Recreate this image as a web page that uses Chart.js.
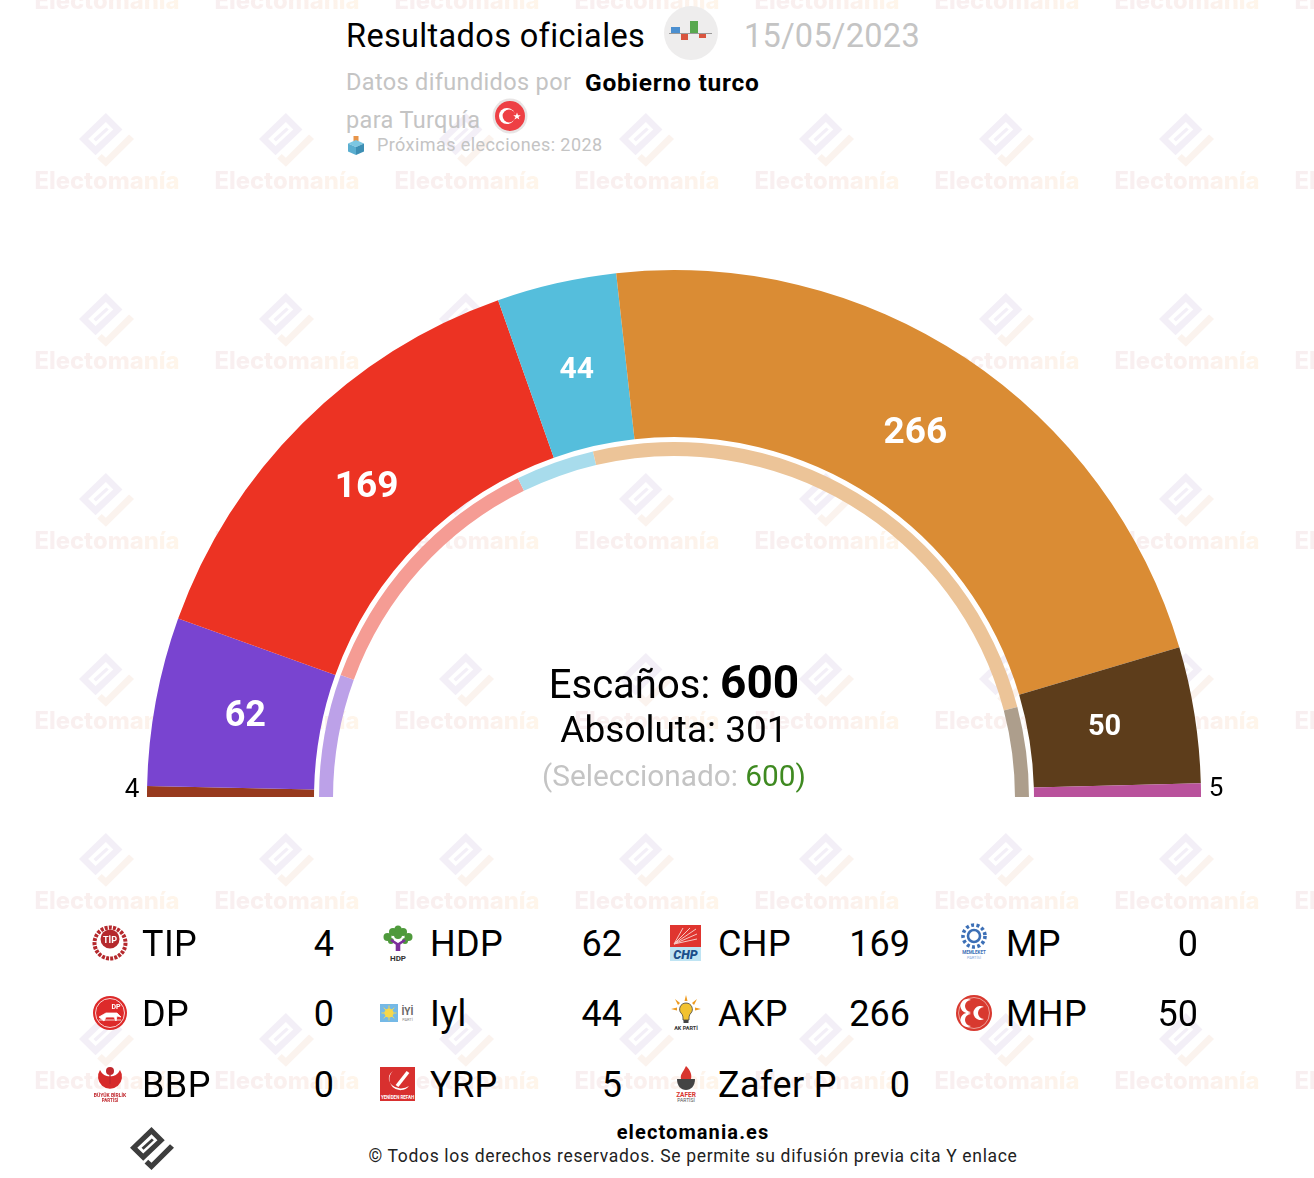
<!DOCTYPE html>
<html lang="es">
<head>
<meta charset="utf-8">
<title>Resultados oficiales</title>
<script src="https://cdn.jsdelivr.net/npm/chart.js@4"></script>
<style>
  html, body { margin: 0; padding: 0; background: #fff; }
  body { position: relative; width: 1314px; height: 1178px; overflow: hidden; font-family: Roboto, sans-serif; color: #000; }
  .abs { position: absolute; white-space: nowrap; line-height: 1; }
  .mid { transform: translate(-50%, -50%); }
  .vmid { transform: translateY(-50%); }
  .right { transform: translate(-100%, -50%); }
  .gray { color: #c4c4c4; }
  .wm { position: absolute; font-family: Inter, sans-serif; font-weight: 800; font-size: 23.8px; line-height: 1; width: 150px; text-align: center;
    transform: translate(-50%, -50%); background: linear-gradient(90deg, #f8eff1, #fbf0ed 60%, #fff6ea); -webkit-background-clip: text; background-clip: text; color: transparent; }
  .wmicon { position: absolute; width: 55px; height: 55px; }
  #chartBox { position: absolute; left: 100px; top: 250px; width: 1148px; height: 567px; }
  svg { position: absolute; overflow: visible; }
</style>
</head>
<body>
<svg width="0" height="0" style="position:absolute">
  <defs>
    <symbol id="mark-main" viewBox="0 0 133 133">
      <path fill-rule="evenodd" d="M65 0 L0 63 L40 102 L105 40 Z M65 22 L22 63 L40 80 L83 40 Z"/>
      <path d="M66 35 L35 63 L41 69 L72 40 Z"/>
    </symbol>
    <symbol id="mark-tail" viewBox="0 0 133 133">
      <path d="M121 52 L133 63 L65 130 L44 110 L55 99 L65 108 Z"/>
    </symbol>
  </defs>
</svg>
<div id="watermarks"></div>
<div id="chartBox"><canvas id="seats"></canvas></div>

<div class="abs vmid" style="left:346px;top:36px;font-size:32.5px;letter-spacing:0.35px;">Resultados oficiales</div>
<svg style="left:664px;top:6px" width="54" height="54">
  <circle cx="27" cy="27" r="27" fill="#eeeded"/>
  <rect x="7" y="21" width="9" height="6" fill="#4b8fd0"/>
  <rect x="17" y="28" width="7" height="6" fill="#d9553f"/>
  <rect x="26" y="15" width="8" height="12" fill="#58a84f"/>
  <rect x="35" y="28" width="7" height="4" fill="#d9553f"/>
  <rect x="5" y="27" width="43" height="1" fill="#9a9a9a"/>
</svg>
<div class="abs vmid gray" style="left:744px;top:36px;font-size:32.5px;letter-spacing:0.3px;">15/05/2023</div>

<div class="abs vmid gray" style="left:346px;top:83px;font-size:23.5px;letter-spacing:0.35px;">Datos difundidos por</div>
<div class="abs vmid" style="left:585px;top:83px;font-size:24.5px;font-weight:700;letter-spacing:0.75px;">Gobierno turco</div>
<div class="abs vmid gray" style="left:346px;top:121px;font-size:23.5px;letter-spacing:0.35px;">para Turquía</div>
<svg style="left:492px;top:98px" width="36" height="36">
  <circle cx="18" cy="18" r="17.5" fill="#e8e4e4"/>
  <circle cx="18" cy="18" r="15" fill="#ee3f44"/>
  <circle cx="15" cy="18" r="8" fill="#fff"/>
  <circle cx="17" cy="18" r="6.4" fill="#ee3f44"/>
  <polygon points="25,14.5 26,17.2 28.8,17.2 26.5,18.9 27.4,21.6 25,20 22.6,21.6 23.5,18.9 21.2,17.2 24,17.2" fill="#fff"/>
</svg>
<svg style="left:347px;top:136px" width="18" height="20">
  <rect x="6.5" y="0" width="5" height="6" fill="#e8954a"/>
  <polygon points="9,4 17,7.5 9,11 1,7.5" fill="#7cc7e2"/>
  <polygon points="1,7.5 9,11 9,19 1,15.5" fill="#5aaed0"/>
  <polygon points="17,7.5 9,11 9,19 17,15.5" fill="#3d8fb4"/>
</svg>
<div class="abs vmid gray" style="left:377px;top:145px;font-size:18px;letter-spacing:0.42px;">Próximas elecciones: 2028</div>

<div class="abs mid" style="left:674px;top:682px;font-size:40px;">Escaños: <b style="font-size:46px;">600</b></div>
<div class="abs mid" style="left:674px;top:729px;font-size:37px;">Absoluta: 301</div>
<div class="abs mid gray" style="left:674px;top:776px;font-size:29.8px;">(Seleccionado: <span style="color:#3f8a21;">600)</span></div>

<div id="legend"></div>

<svg style="left:130px;top:1127px" width="44" height="44"><use href="#mark-main" width="44" height="44" fill="#3d3d3d"/><use href="#mark-tail" width="44" height="44" fill="#3d3d3d"/></svg>
<div class="abs mid" style="left:693px;top:1132px;font-size:20px;font-weight:700;letter-spacing:1.1px;">electomania.es</div>
<div class="abs mid" style="left:693px;top:1157px;font-size:17.5px;letter-spacing:0.67px;color:#222;">© Todos los derechos reservados. Se permite su difusión previa cita Y enlace</div>

<script>
'use strict';
// seats now, outer band
let parties = ['TIP', 'HDP', 'CHP', 'Iyl', 'AKP', 'MHP', 'YRP'];
let seats = [4, 62, 169, 44, 266, 50, 5];
let colors = ['#973a1e', '#7944d0', '#ec3323', '#55bedc', '#da8c34', '#5d3d1b', '#b9529c'];
let labelSizes = [26, 36, 37, 30, 37, 29, 26];

// previous parliament, thin inner band
let prevParties = ['HDP', 'CHP', 'Iyl', 'AKP', 'MHP'];
let prevSeats = [67, 146, 43, 295, 49];
let prevColors = ['#bca1e8', '#f59c94', '#a8dcec', '#ecc498', '#ad9e8c'];

// legend table
let legendNames = ['TIP', 'HDP', 'CHP', 'MP', 'DP', 'Iyl', 'AKP', 'MHP', 'BBP', 'YRP', 'Zafer P'];
let legendValues = [4, 62, 169, 0, 0, 44, 266, 50, 0, 5, 0];

let logos = {
  'TIP': '<circle cx="18" cy="18" r="15.5" fill="none" stroke="#b5292d" stroke-width="4" stroke-dasharray="3 1.2"/><circle cx="18" cy="14" r="9.5" fill="#b5292d"/><text x="18" y="17.5" font-size="9" font-weight="700" text-anchor="middle" fill="#fff">TİP</text>',
  'HDP': '<circle cx="13" cy="7" r="4" fill="#4f9a3c"/><circle cx="23" cy="7" r="4" fill="#4f9a3c"/><circle cx="7.5" cy="12" r="4" fill="#4f9a3c"/><circle cx="28.5" cy="12" r="4" fill="#4f9a3c"/><circle cx="18" cy="4" r="3.5" fill="#4f9a3c"/><circle cx="18" cy="10" r="4" fill="#4f9a3c"/><circle cx="11" cy="16" r="3" fill="#4f9a3c"/><circle cx="25" cy="16" r="3" fill="#4f9a3c"/><path d="M17 26 L17 19 L11 15 M19 26 L19 19 L25 15" stroke="#7d2f9c" stroke-width="2.6" fill="none"/><text x="18" y="36" font-size="8" font-weight="700" text-anchor="middle" fill="#333">HDP</text>',
  'CHP': '<rect x="2" y="0" width="31" height="22" fill="#e0352f"/><path d="M6 19 L28 4 M6 19 L29 9 M6 19 L29 14 M6 19 L22 3 M6 19 L15 3" stroke="#f7c9c4" stroke-width="1"/><rect x="2" y="22" width="31" height="14" fill="#bfe4f3"/><text x="17.5" y="33.5" font-size="12.5" font-weight="900" font-style="italic" text-anchor="middle" fill="#1c4f8a">CHP</text>',
  'MP': '<circle cx="18" cy="11" r="6" fill="none" stroke="#3c6fb6" stroke-width="2.6"/><circle cx="18" cy="11" r="11" fill="none" stroke="#3c6fb6" stroke-width="3.6" stroke-dasharray="3 2.4"/><text x="18" y="29" font-size="4.5" font-weight="700" text-anchor="middle" fill="#3c6fb6">MEMLEKET</text><text x="18" y="34" font-size="4" text-anchor="middle" fill="#7fa7dc">PARTİSİ</text>',
  'DP': '<circle cx="18" cy="18" r="17" fill="#dd2a2a"/><circle cx="18" cy="18" r="14.5" fill="none" stroke="#fff" stroke-width="0.8"/><text x="24" y="14" font-size="7" font-weight="700" text-anchor="middle" fill="#fff">DP</text><path d="M7 22 L14 18 L25 18 L29 22 L25 21 L24 26 L22 22 L14 22 L12 26 Z M7 25 L29 25" fill="#fff" stroke="#fff" stroke-width="0.8"/>',
  'Iyl': '<rect x="0" y="9" width="18" height="18" fill="#75b9e6"/><circle cx="9" cy="18" r="4.6" fill="#f7d84a"/><path d="M9 10.5 L9 25.5 M1.5 18 L16.5 18 M3.7 12.7 L14.3 23.3 M14.3 12.7 L3.7 23.3" stroke="#f7d84a" stroke-width="1"/><text x="27.5" y="20" font-size="10" font-weight="700" text-anchor="middle" fill="#666">İYİ</text><text x="27.5" y="26" font-size="4" text-anchor="middle" fill="#888">PARTİ</text>',
  'AKP': '<path d="M18 8 C12 8 10 15 13 18 C15 20 15 22 15 25 L21 25 C21 22 21 20 23 18 C26 15 24 8 18 8 Z" fill="#f2c230" stroke="#444" stroke-width="0.8"/><rect x="15.5" y="25" width="5" height="3" fill="#444"/><path d="M18 0 L19.5 6 L16.5 6 Z M3 14 L9 12.5 L9 15.5 Z M33 14 L27 12.5 L27 15.5 Z M7 4 L12 8 L10 10 Z M29 4 L24 8 L26 10 Z" fill="#ee9a1f"/><text x="18" y="35" font-size="5.5" font-weight="700" text-anchor="middle" fill="#333">AK PARTİ</text>',
  'MHP': '<circle cx="18" cy="18" r="18" fill="#d8392f"/><circle cx="18" cy="18" r="15.5" fill="none" stroke="#f3b9b3" stroke-width="0.8"/><path d="M15 5 A7 7 0 1 0 15 17 A5.6 5.6 0 1 1 15 5 Z M15 19 A7 7 0 1 0 15 31 A5.6 5.6 0 1 1 15 19 Z M28 12 A7 7 0 1 0 28 24 A5.6 5.6 0 1 1 28 12 Z" fill="#fff"/>',
  'BBP': '<path d="M8 4 A12 12 0 1 0 28 4 A11 11 0 0 1 8 4 Z" fill="#d62a2a"/><circle cx="18" cy="5" r="4" fill="#c0272d"/><path d="M18 9 L18 18" stroke="#c0272d" stroke-width="1.4"/><text x="18" y="31" font-size="5" font-weight="700" text-anchor="middle" fill="#c0272d">BÜYÜK BİRLİK</text><text x="18" y="36" font-size="4.5" font-weight="700" text-anchor="middle" fill="#c0272d">PARTİSİ</text>',
  'YRP': '<rect x="0" y="1" width="35" height="34" fill="#d8302f"/><path d="M13 5 A11 11 0 1 0 29 20 A11 9 0 0 1 13 5 Z" fill="#fff"/><path d="M17 20 L28 6" stroke="#fff" stroke-width="3.5"/><text x="17.5" y="32.5" font-size="4.5" font-weight="700" text-anchor="middle" fill="#fff">YENİDEN REFAH</text>',
  'Zafer P': '<path d="M18 0 C23 5 24 9 23 13 L13 13 C12 8 15 7 18 0 Z" fill="#d8352f"/><path d="M9 13 L27 13 C27 20 23 24 18 24 C13 24 9 20 9 13 Z" fill="#444"/><text x="18" y="31" font-size="6.5" font-weight="700" text-anchor="middle" fill="#d8352f">ZAFER</text><text x="18" y="36" font-size="5" text-anchor="middle" fill="#555">PARTİSİ</text>'
};

// positions of the repeated background mark
let wmXs = [107, 287, 467, 647, 827, 1007, 1187, 1367];
let wmYs = [1, 181, 361, 541, 721, 901, 1081];

function addWatermarks() {
  let box = document.getElementById('watermarks');
  let html = '';
  for (let y of wmYs) {
    for (let x of wmXs) {
      html += `<svg class="wmicon" style="left:${x - 28}px;top:${y - 68}px" viewBox="0 0 133 133"><use href="#mark-main" width="133" height="133" fill="#f3eff7"/><use href="#mark-tail" width="133" height="133" fill="#fbf3ee"/></svg>`;
      html += `<div class="wm" style="left:${x}px;top:${y}px">Electomanía</div>`;
    }
  }
  box.innerHTML = html;
}

function addLegend() {
  let box = document.getElementById('legend');
  let colX = [110, 398, 686, 974];
  let rowY = [944, 1014, 1085];
  let html = '';
  for (let i = 0; i < legendNames.length; i++) {
    let x = colX[i % 4];
    let y = rowY[Math.floor(i / 4)];
    let name = legendNames[i];
    html += `<svg style="left:${x - 18}px;top:${y - 19}px" width="36" height="36" font-family="Roboto, sans-serif">${logos[name]}</svg>`;
    html += `<div class="abs vmid" style="left:${x + 32}px;top:${y}px;font-size:36px;letter-spacing:0.4px;">${name}</div>`;
    html += `<div class="abs right" style="left:${x + 224}px;top:${y}px;font-size:36px;">${legendValues[i]}</div>`;
  }
  box.innerHTML = html;
}

addWatermarks();
addLegend();

let canvas = document.getElementById('seats');
canvas.width = 1148;
canvas.height = 567;

let chart = new Chart(canvas.getContext('2d'), {
  type: 'doughnut',
  data: {
    labels: parties,
    datasets: [
      { label: 'Escaños', data: seats, backgroundColor: colors, borderWidth: 0, weight: 167 },
      { label: 'hueco', data: [1], backgroundColor: ['rgba(0,0,0,0)'], borderWidth: 0, weight: 5 },
      { label: 'Anterior', data: prevSeats, backgroundColor: prevColors, borderWidth: 0, weight: 14 }
    ]
  },
  options: {
    responsive: false,
    animation: false,
    rotation: -90,
    circumference: 180,
    radius: 527,
    cutout: '64.7%',
    layout: { padding: 0 },
    plugins: { legend: { display: false }, tooltip: { enabled: false } }
  }
});

// seat numbers, placed from the arcs the chart worked out
function addSliceLabels() {
  let meta = chart.getDatasetMeta(0);
  let box = document.getElementById('chartBox');
  meta.data.forEach(function(arc, i) {
    let el = document.createElement('div');
    el.className = 'abs mid';
    el.textContent = seats[i];
    el.style.fontSize = labelSizes[i] + 'px';
    let angle = (arc.startAngle + arc.endAngle) / 2;
    if (seats[i] < 10) {
      // too thin to hold the number, goes outside
      let r = arc.outerRadius + 15;
      el.style.left = (arc.x + Math.cos(angle) * r) + 'px';
      el.style.top = (arc.y + Math.sin(angle) * r - 3) + 'px';
      el.style.color = '#000';
    } else {
      let r = (arc.outerRadius + arc.innerRadius) / 2 - 7.5;
      el.style.left = (arc.x + Math.cos(angle) * r) + 'px';
      el.style.top = (arc.y + Math.sin(angle) * r - 4) + 'px';
      el.style.fontWeight = '700';
      el.style.color = '#fff';
    }
    box.appendChild(el);
  });
}
addSliceLabels();
</script>
</body>
</html>
